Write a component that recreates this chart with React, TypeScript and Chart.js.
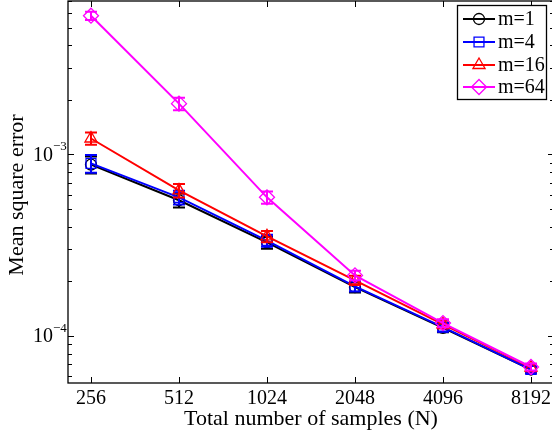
import React, { useEffect, useRef } from "react";
import { Chart, registerables } from "chart.js";

Chart.register(...registerables);

const sampleCounts = [256, 512, 1024, 2048, 4096, 8192];
const xTickLabels = ["256", "512", "1024", "2048", "4096", "8192"];
const seriesNames = ["m=1", "m=4", "m=16", "m=64"];
const mseM1 = [8.8e-4, 5.6e-4, 3.28e-4, 1.86e-4, 1.11e-4, 6.55e-5];
const mseM4 = [8.93e-4, 5.81e-4, 3.36e-4, 1.88e-4, 1.12e-4, 6.55e-5];
const mseM16 = [1.225e-3, 6.34e-4, 3.54e-4, 2.03e-4, 1.16e-4, 6.7e-5];
const mseM64 = [5.81e-3, 1.905e-3, 5.81e-4, 2.16e-4, 1.18e-4, 6.76e-5];
const errM1 = [9.5e-5, 5e-5, 2.5e-5, 1.2e-5, 6e-6, 3e-6];
const errM4 = [1.0e-4, 5e-5, 2.5e-5, 1.2e-5, 6e-6, 3e-6];
const errM16 = [9.5e-5, 5.5e-5, 2.5e-5, 1.2e-5, 6e-6, 3e-6];
const errM64 = [3.0e-4, 1.5e-4, 4.5e-5, 1.3e-5, 6e-6, 3e-6];
const yMajorTicks = [1e-4, 1e-3];
const yMajorExponents = ["\u22124", "\u22123"];

const colors = ["#000000", "#0000ff", "#ff0000", "#ff00ff"];
const markers = ["circle", "rect", "triangle", "rectRot"];
const markerRadius = [5.5, 7, 7, 7.5];
const FONT = "'Liberation Serif', 'Times New Roman', serif";

function drawMarker(ctx: CanvasRenderingContext2D, style: string, x: number, y: number, r: number) {
  ctx.beginPath();
  if (style === "circle") {
    ctx.arc(x, y, r, 0, Math.PI * 2);
  } else if (style === "rect") {
    const s = r * Math.SQRT1_2;
    ctx.rect(x - s, y - s, 2 * s, 2 * s);
  } else if (style === "triangle") {
    ctx.moveTo(x, y - r);
    ctx.lineTo(x + r * 0.866, y + r * 0.5);
    ctx.lineTo(x - r * 0.866, y + r * 0.5);
    ctx.closePath();
  } else {
    ctx.moveTo(x, y - r);
    ctx.lineTo(x + r, y);
    ctx.lineTo(x, y + r);
    ctx.lineTo(x - r, y);
    ctx.closePath();
  }
  ctx.stroke();
}

export default function App() {
  const ref = useRef<HTMLCanvasElement | null>(null);

  useEffect(() => {
    const canvas = ref.current;
    if (!canvas) return;
    const values = [mseM1, mseM4, mseM16, mseM64];
    const errors = [errM1, errM4, errM16, errM64];

    const errorBarPlugin = {
      id: "errorBars",
      afterDatasetDraw(chart: any, args: any) {
        const i = args.index;
        const meta = args.meta;
        const ys = chart.scales.y;
        const ctx = chart.ctx;
        ctx.save();
        ctx.strokeStyle = colors[i];
        ctx.lineWidth = 2;
        values[i].forEach((v, k) => {
          const x = meta.data[k].x;
          const yt = ys.getPixelForValue(v + errors[i][k]);
          const yb = ys.getPixelForValue(v - errors[i][k]);
          ctx.beginPath();
          ctx.moveTo(x, yt);
          ctx.lineTo(x, yb);
          ctx.moveTo(x - 6, yt);
          ctx.lineTo(x + 6, yt);
          ctx.moveTo(x - 6, yb);
          ctx.lineTo(x + 6, yb);
          ctx.stroke();
        });
        ctx.restore();
      },
    };

    const axesPlugin = {
      id: "matlabAxes",
      afterDraw(chart: any) {
        const ctx = chart.ctx as CanvasRenderingContext2D;
        const a = chart.chartArea;
        const xs = chart.scales.x;
        const ys = chart.scales.y;
        ctx.save();
        ctx.strokeStyle = "#000";
        ctx.lineWidth = 1.3;
        ctx.strokeRect(a.left, a.top, a.right - a.left, a.bottom - a.top);
        ctx.lineWidth = 1;
        sampleCounts.forEach((n) => {
          const x = Math.round(xs.getPixelForValue(n)) + 0.5;
          ctx.beginPath();
          ctx.moveTo(x, a.bottom);
          ctx.lineTo(x, a.bottom - 6);
          ctx.moveTo(x, a.top);
          ctx.lineTo(x, a.top + 6);
          ctx.stroke();
        });
        for (let e = -5; e <= -2; e++) {
          for (let m = 1; m <= 9; m++) {
            const v = m * Math.pow(10, e);
            if (v < ys.min || v > ys.max) continue;
            const y = Math.round(ys.getPixelForValue(v)) + 0.5;
            const len = m === 1 ? 6 : 4;
            ctx.beginPath();
            ctx.moveTo(a.left, y);
            ctx.lineTo(a.left + len, y);
            ctx.moveTo(a.right, y);
            ctx.lineTo(a.right - len, y);
            ctx.stroke();
          }
        }
        ctx.fillStyle = "#000";
        ctx.font = `20px ${FONT}`;
        ctx.textAlign = "center";
        ctx.textBaseline = "middle";
        sampleCounts.forEach((n, k) => {
          ctx.fillText(xTickLabels[k], xs.getPixelForValue(n), 399);
        });
        yMajorTicks.forEach((v, k) => {
          const y = ys.getPixelForValue(v);
          ctx.font = `20px ${FONT}`;
          ctx.textAlign = "right";
          ctx.textBaseline = "middle";
          ctx.fillText("10", 53, y + 1);
          ctx.font = `13px ${FONT}`;
          ctx.textAlign = "left";
          ctx.fillText(yMajorExponents[k], 53, y - 8);
        });
        ctx.font = `22px ${FONT}`;
        ctx.textAlign = "center";
        ctx.textBaseline = "middle";
        ctx.fillText("Total number of samples (N)", (a.left + a.right) / 2, 419);
        ctx.save();
        ctx.translate(17, 195);
        ctx.rotate(-Math.PI / 2);
        ctx.fillText("Mean square error", 0, 0);
        ctx.restore();
        const bx = 457.5, by = 5.5, bw = 89, bh = 94;
        ctx.fillStyle = "#fff";
        ctx.fillRect(bx, by, bw, bh);
        ctx.strokeStyle = "#000";
        ctx.lineWidth = 1.3;
        ctx.strokeRect(bx, by, bw, bh);
        const rowY = [19, 42, 65, 87];
        seriesNames.forEach((name, i) => {
          const y = rowY[i];
          ctx.strokeStyle = colors[i];
          ctx.lineWidth = 2;
          ctx.beginPath();
          ctx.moveTo(463, y);
          ctx.lineTo(495, y);
          ctx.stroke();
          ctx.lineWidth = 1.3;
          drawMarker(ctx, markers[i], 479, y, markerRadius[i]);
          ctx.fillStyle = "#000";
          ctx.font = `20px ${FONT}`;
          ctx.textAlign = "left";
          ctx.textBaseline = "middle";
          ctx.fillText(name, 498, y + 1);
        });
        ctx.restore();
      },
    };

    const chart = new Chart(canvas, {
      type: "line",
      data: {
        datasets: values.map((arr, i) => ({
          label: seriesNames[i],
          data: sampleCounts.map((n, k) => ({ x: n, y: arr[k] })),
          borderColor: colors[i],
          backgroundColor: "transparent",
          borderWidth: 2,
          pointStyle: markers[i] as any,
          pointRadius: markerRadius[i],
          pointBorderWidth: 1.3,
          pointBorderColor: colors[i],
          pointBackgroundColor: "rgba(0,0,0,0)",
          tension: 0,
          order: 3 - i,
        })),
      },
      options: {
        animation: false,
        responsive: false,
        devicePixelRatio: 1,
        layout: { autoPadding: false, padding: { left: 68, right: 0, top: 1, bottom: 49 } },
        plugins: { legend: { display: false }, tooltip: { enabled: false } },
        scales: {
          x: { type: "logarithmic", min: 213.6, max: 9820, display: false },
          y: { type: "logarithmic", min: 5.52e-5, max: 7.0e-3, display: false },
        },
      },
      plugins: [errorBarPlugin, axesPlugin],
    });
    return () => chart.destroy();
  }, []);

  return (
    <div style={{ position: "absolute", left: 0, top: 0, width: 552, height: 432, overflow: "hidden", background: "#fff" }}>
      <canvas ref={ref} width={554} height={432} style={{ width: 554, height: 432, display: "block" }} />
    </div>
  );
}
